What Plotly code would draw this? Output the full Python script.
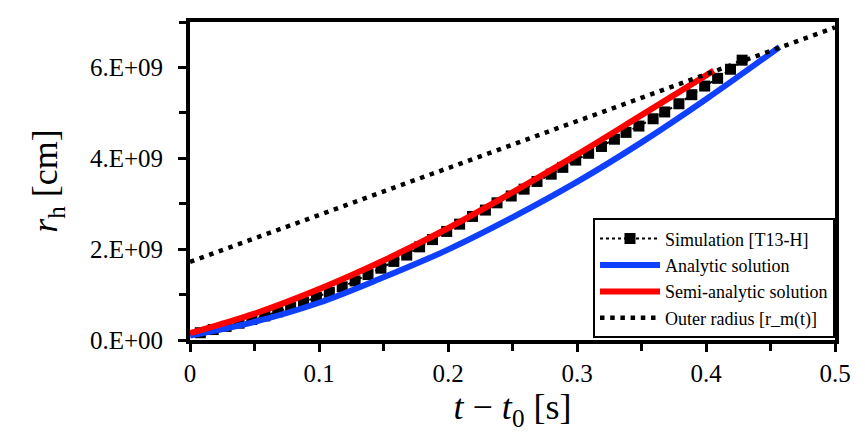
import plotly.graph_objects as go

# ── Data ──
sim_t = [0.008, 0.018, 0.028, 0.038, 0.048, 0.058, 0.068, 0.078, 0.088, 0.098,
         0.108, 0.118, 0.128, 0.138, 0.148, 0.158, 0.168, 0.178, 0.188, 0.199,
         0.209, 0.219, 0.229, 0.238, 0.249, 0.259, 0.269, 0.280, 0.289, 0.299,
         0.309, 0.319, 0.329, 0.338, 0.348, 0.359, 0.368, 0.379, 0.389, 0.399,
         0.409, 0.419, 0.428]
sim_r = [0.16e9, 0.23e9, 0.30e9, 0.37e9, 0.45e9, 0.53e9, 0.62e9, 0.72e9, 0.83e9, 0.94e9,
         1.05e9, 1.17e9, 1.30e9, 1.44e9, 1.58e9, 1.73e9, 1.87e9, 2.05e9, 2.21e9, 2.39e9,
         2.55e9, 2.72e9, 2.86e9, 3.02e9, 3.17e9, 3.32e9, 3.49e9, 3.65e9, 3.80e9, 3.96e9,
         4.11e9, 4.26e9, 4.42e9, 4.57e9, 4.71e9, 4.87e9, 5.02e9, 5.20e9, 5.40e9, 5.59e9,
         5.76e9, 5.96e9, 6.16e9]

analytic_t = [0.0, 0.05, 0.10, 0.15, 0.20, 0.25, 0.30, 0.35, 0.40, 0.457]
analytic_r = [0.10e9, 0.40e9, 0.82e9, 1.38e9, 1.99e9, 2.70e9, 3.48e9, 4.35e9, 5.30e9, 6.45e9]

semi_t = [0.0, 0.05, 0.10, 0.15, 0.20, 0.25, 0.30, 0.35, 0.406]
semi_r = [0.15e9, 0.58e9, 1.12e9, 1.75e9, 2.46e9, 3.25e9, 4.08e9, 4.95e9, 5.93e9]

outer_t = [0.0, 0.5]
outer_r = [1.72e9, 6.88e9]

y_tickvals = [0, 2e9, 4e9, 6e9]
y_ticktext = ["0.E+00", "2.E+09", "4.E+09", "6.E+09"]
x_tickvals = [0, 0.1, 0.2, 0.3, 0.4, 0.5]
x_ticktext = ["0", "0.1", "0.2", "0.3", "0.4", "0.5"]

SERIF = "Liberation Serif"

fig = go.Figure()

fig.add_trace(go.Scatter(
    x=sim_t, y=sim_r, mode="lines+markers", name="Simulation [T13-H]",
    line=dict(color="black", width=2, dash="dot"),
    marker=dict(symbol="square", size=11, color="black"),
))
fig.add_trace(go.Scatter(
    x=analytic_t, y=analytic_r, mode="lines", name="Analytic solution",
    line=dict(color="#1040ff", width=6, shape="spline"),
))
fig.add_trace(go.Scatter(
    x=semi_t, y=semi_r, mode="lines", name="Semi-analytic solution",
    line=dict(color="#ff0000", width=6, shape="spline"),
))
fig.add_trace(go.Scatter(
    x=outer_t, y=outer_r, mode="lines", name="Outer radius [r_m(t)]",
    line=dict(color="black", width=4.5, dash="4.5px,5.7px"),
))

axis_common = dict(
    showline=True, linecolor="black", linewidth=4, mirror=True,
    ticks="outside", ticklen=8, tickwidth=3, tickcolor="black",
    showgrid=False, zeroline=False,
    tickfont=dict(family=SERIF, size=25, color="black"),
)

fig.update_xaxes(
    range=[0, 0.5], tickvals=x_tickvals, ticktext=x_ticktext,
    minor=dict(dtick=0.05, ticks="outside", ticklen=7, tickwidth=3,
               tickcolor="black", showgrid=False),
    title=dict(text="<i>t</i> − <i>t</i><sub>0</sub> [s]",
               font=dict(family=SERIF, size=36, color="black"), standoff=0),
    **axis_common,
)
fig.update_yaxes(
    range=[0, 7e9], tickvals=y_tickvals, ticktext=y_ticktext,
    ticklabelstandoff=10,
    minor=dict(dtick=1e9, ticks="outside", ticklen=7, tickwidth=3,
               tickcolor="black", showgrid=False),
    title=dict(text="<i>r</i><sub>h</sub> [cm]",
               font=dict(family=SERIF, size=36, color="black"), standoff=22),
    **axis_common,
)

# page body has an 8px margin, so the figure is shrunk to fit the window
fig.update_layout(
    width=857, height=425,
    margin=dict(l=182, r=30, t=10, b=93),
    plot_bgcolor="white", paper_bgcolor="white",
    font=dict(family=SERIF, color="black"),
    legend=dict(
        x=1, y=0.005, xanchor="right", yanchor="bottom",
        bgcolor="white", bordercolor="black", borderwidth=2,
        font=dict(family=SERIF, size=18, color="black"),
        itemwidth=60,
    ),
)

fig.write_html("out.html")
